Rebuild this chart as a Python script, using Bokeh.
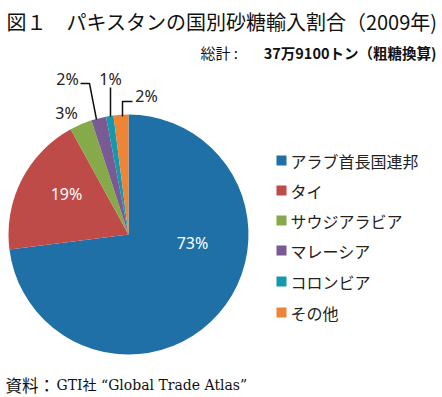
import math
from bokeh.plotting import figure
from bokeh.models import Range1d, ColumnDataSource
from bokeh.core.properties import value
from bokeh.embed import file_html
from bokeh.resources import INLINE

# ---- data ----
countries = ["アラブ首長国連邦", "タイ", "サウジアラビア", "マレーシア", "コロンビア", "その他"]
shares = [73, 19, 3, 2, 1, 2]
labels = ["73%", "19%", "3%", "2%", "1%", "2%"]
colors = ["#2070A8", "#BF4B48", "#86A94A", "#7A5A93", "#1597AE", "#EE8536"]
title_text = "図１　パキスタンの国別砂糖輸入割合（2009年)"
total_head = "総計 :"
total_text = "37万9100トン（粗糖換算)"
source_head = "資料："
source_text = "GTI社 “Global Trade Atlas”"

W, H = 442, 397
PAGE_H = 397

def Y(py):
    return PAGE_H - py

p = figure(width=W, height=H, output_backend="svg", toolbar_location=None,
           x_range=Range1d(0, W), y_range=Range1d(0, H),
           x_axis_location=None, y_axis_location=None, min_border=0)
p.grid.visible = False
p.outline_line_color = None
p.background_fill_color = "white"
p.border_fill_color = "white"

# pie
cx, cy, r = 128, Y(234), 120
total = sum(shares)
starts, ends = [], []
cum = 0
for s in shares:
    starts.append(math.pi / 2 - cum / total * 2 * math.pi)
    cum += s
    ends.append(math.pi / 2 - cum / total * 2 * math.pi)
src = ColumnDataSource(dict(start=starts, end=ends, color=colors))
p.wedge(x=cx, y=cy, radius=r, start_angle="start", end_angle="end",
        direction="clock", fill_color="color", line_color=None, source=src)

# slice labels (layout positions)
lab_x = [192, 66, 66, 67, 110, 146]
lab_y = [242, 193, 112, 78, 78, 95]
lab_c = ["white", "white", "#222222", "#222222", "#222222", "#222222"]
p.text(x=lab_x, y=[Y(v) for v in lab_y], text=labels, text_color=lab_c,
       text_font=value("Noto Sans"), text_font_size="16px",
       text_align="center", text_baseline="middle")

# leader lines
p.line(x=[80, 89, 96], y=[Y(83), Y(83), Y(119)], line_color="#111111", line_width=1.5)
p.line(x=[110, 110], y=[Y(87), Y(116)], line_color="#111111", line_width=1.5)
p.line(x=[122, 122, 132], y=[Y(116), Y(101), Y(101)], line_color="#111111", line_width=1.5)

# legend
leg_y = [160, 190, 220, 250, 281, 312]
p.rect(x=[281] * 6, y=[Y(v) for v in leg_y], width=10, height=10,
       fill_color=colors, line_color=None)
p.text(x=[290] * 6, y=[Y(v) for v in leg_y], text=countries, text_color="#222222",
       text_font=value("Noto Sans CJK JP"), text_font_size="16px",
       text_align="left", text_baseline="middle")

# title
p.text(x=[6], y=[Y(21)], text=[title_text], text_color="#111111",
       text_font=value("Noto Sans CJK JP"), text_font_size="20px",
       text_align="left", text_baseline="middle")

# total
p.text(x=[436], y=[Y(52)], text=[total_text], text_color="#111111",
       text_font=value("Noto Sans CJK JP"), text_font_size="14.5px", text_font_style="bold",
       text_align="right", text_baseline="middle")
p.text(x=[200], y=[Y(52)], text=[total_head], text_color="#111111",
       text_font=value("Noto Sans CJK JP"), text_font_size="15px",
       text_align="left", text_baseline="middle")

# source
p.text(x=[5], y=[Y(384)], text=[source_head], text_color="#111111",
       text_font=value("Noto Sans CJK JP"), text_font_size="16.5px",
       text_align="left", text_baseline="middle")
p.text(x=[56], y=[Y(384)], text=[source_text], text_color="#111111",
       text_font=value("DejaVu Serif, Noto Sans CJK JP"), text_font_size="14px",
       text_align="left", text_baseline="middle")

open("out.html", "w").write(file_html(p, INLINE))
